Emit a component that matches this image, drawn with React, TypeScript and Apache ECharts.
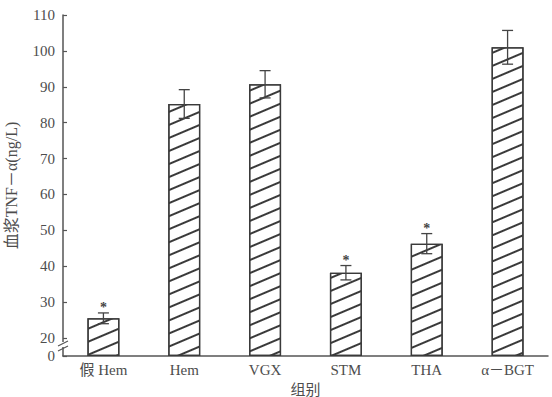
import React, { useEffect, useRef } from "react";
import * as echarts from "echarts";

const categories = ["假 Hem", "Hem", "VGX", "STM", "THA", "α－BGT"];
const means = [25.5, 85.2, 90.7, 38.2, 46.3, 101.0];
const errors = [1.5, 4.0, 3.8, 2.0, 2.8, 4.7];
const significant = [true, false, false, true, true, false];
const yTickValues = [0, 20, 30, 40, 50, 60, 70, 80, 90, 100, 110];
const yAxisTitle = "血浆TNF－α(ng/L)";
const xAxisTitle = "组别";

// broken axis: 0..20 compressed into 5 axis units, above 20 linear
const BREAK_AT = 20;
const BREAK_UNITS = 5;
const toAxis = (v: number) => (v >= BREAK_AT ? v - BREAK_AT + BREAK_UNITS : (v * BREAK_UNITS) / BREAK_AT);
const fromAxis = (a: number) => Math.round(a >= BREAK_UNITS ? a + BREAK_AT - BREAK_UNITS : (a * BREAK_AT) / BREAK_UNITS);

const FONT = "'Liberation Serif', 'Noto Sans CJK SC', serif";
const TEXT = "#4d4d4d";
const LINE = "#555";
const MARK = "#444";

export default function App() {
  const ref = useRef<HTMLDivElement>(null);
  useEffect(() => {
    if (!ref.current) return;
    const chart = echarts.init(ref.current, undefined, { renderer: "svg" });
    const errData = categories.map((_, i) => [i, toAxis(means[i] - errors[i]), toAxis(means[i] + errors[i]), significant[i] ? 1 : 0]);
    chart.setOption({
      animation: false,
      color: [MARK],
      grid: { left: 63, right: 4, top: 15, bottom: 41, outerBoundsMode: "none", containLabel: false },
      xAxis: {
        type: "category",
        data: categories,
        name: xAxisTitle,
        nameLocation: "middle",
        nameGap: 26,
        nameTextStyle: { fontFamily: FONT, fontSize: 15, color: TEXT },
        axisLine: { lineStyle: { color: LINE, width: 1.5 } },
        axisTick: { inside: true, length: 4, alignWithLabel: false, lineStyle: { color: LINE, width: 1.2 } },
        axisLabel: { fontFamily: FONT, fontSize: 15, color: TEXT, margin: 6 },
      },
      yAxis: {
        type: "value",
        min: 0,
        max: toAxis(110),
        name: yAxisTitle,
        nameLocation: "middle",
        nameGap: 44,
        nameRotate: 90,
        nameTextStyle: { fontFamily: FONT, fontSize: 16, color: TEXT },
        splitLine: { show: false },
        axisLine: { show: true, lineStyle: { color: LINE, width: 1.5 } },
        axisTick: { show: true, inside: true, length: 4, customValues: yTickValues.map(toAxis), lineStyle: { color: LINE, width: 1.2 } },
        axisLabel: {
          fontFamily: FONT,
          fontSize: 15,
          color: TEXT,
          margin: 8,
          customValues: yTickValues.map(toAxis),
          formatter: (a: number) => String(fromAxis(a)),
        },
      },
      graphic: [
        { type: "rect", shape: { x: 59, y: 342, width: 8, height: 5 }, style: { fill: "#fff" }, z: 100 },
        { type: "line", shape: { x1: 58, y1: 346, x2: 68, y2: 341 }, style: { stroke: LINE, lineWidth: 1.2 }, z: 101 },
        { type: "line", shape: { x1: 58, y1: 351, x2: 68, y2: 346 }, style: { stroke: LINE, lineWidth: 1.2 }, z: 101 },
      ],
      series: [
        {
          type: "bar",
          data: means.map(toAxis),
          barWidth: 32,
          itemStyle: {
            color: "#fff",
            borderColor: "#3a3a3a",
            borderWidth: 1.3,
            decal: {
              symbol: "rect",
              color: "#3a3a3a",
              backgroundColor: "#fff",
              dashArrayX: [1, 0],
              dashArrayY: [1.3, 9.5],
              rotation: (-23 * Math.PI) / 180,
            },
          },
        },
        {
          type: "custom",
          data: errData,
          encode: { x: 0, y: [1, 2] },
          z: 10,
          colorBy: "series",
          itemStyle: { color: MARK },
          renderItem: (params: any, api: any) => {
            const x = api.value(0);
            const lo = api.coord([x, api.value(1)]);
            const hi = api.coord([x, api.value(2)]);
            const cx = lo[0];
            const cap = 5.5;
            const stroke = { stroke: MARK, lineWidth: 1.3 };
            const children: any[] = [
              { type: "line", shape: { x1: cx, y1: lo[1], x2: cx, y2: hi[1] }, style: stroke },
              { type: "line", shape: { x1: cx - cap, y1: lo[1], x2: cx + cap, y2: lo[1] }, style: stroke },
              { type: "line", shape: { x1: cx - cap, y1: hi[1], x2: cx + cap, y2: hi[1] }, style: stroke },
            ];
            if (api.value(3)) {
              children.push({
                type: "text",
                style: { text: "*", x: cx, y: hi[1] - 5, font: "bold 14px 'Liberation Serif', serif", fill: MARK, align: "center", verticalAlign: "middle" },
              });
            }
            return { type: "group", children };
          },
        },
      ],
    });
    return () => chart.dispose();
  }, []);
  return <div ref={ref} style={{ width: 552, height: 397, position: "absolute", left: 0, top: 0 }} />;
}
